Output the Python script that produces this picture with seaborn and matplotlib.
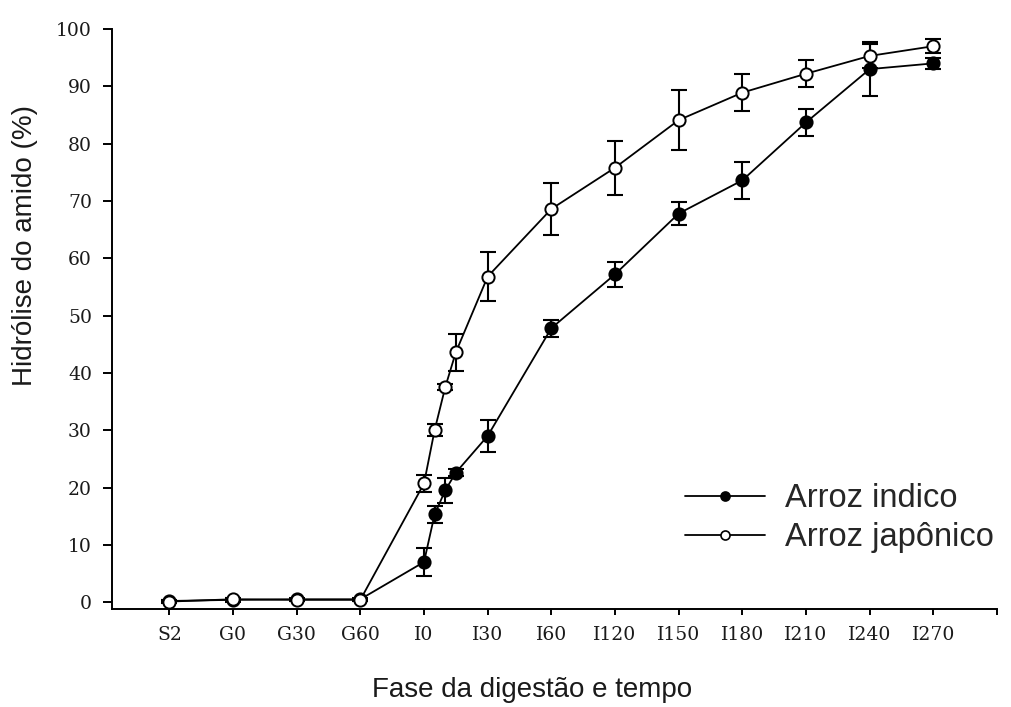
import numpy as np
import pandas as pd
import matplotlib
matplotlib.use("Agg")
import matplotlib.pyplot as plt
from matplotlib.lines import Line2D
import seaborn as sns

# ---- data ----
categories = ['S2', 'G0', 'G30', 'G60', 'I0', 'I30', 'I60', 'I120',
              'I150', 'I180', 'I210', 'I240', 'I270']
samples = ['S2', 'G0', 'G30', 'G60', 'I0', 'I5', 'I10', 'I15', 'I30', 'I60',
           'I120', 'I150', 'I180', 'I210', 'I240', 'I270']
indico = [0.2, 0.4, 0.5, 0.5, 7.0, 15.3, 19.5, 22.6, 29.0, 47.8,
          57.2, 67.8, 73.6, 83.7, 93.0, 94.0]
indico_err = [0.2, 0.3, 0.3, 0.3, 2.4, 1.5, 2.2, 0.6, 2.8, 1.5,
              2.2, 2.0, 3.2, 2.4, 4.7, 1.0]
japonico = [0.1, 0.5, 0.4, 0.4, 20.7, 30.0, 37.5, 43.6, 56.8, 68.6,
            75.8, 84.1, 88.9, 92.2, 95.3, 97.0]
japonico_err = [0.2, 0.3, 0.2, 0.2, 1.5, 1.0, 0.5, 3.2, 4.3, 4.5,
                4.7, 5.2, 3.2, 2.4, 2.1, 1.2]
series_names = ['Arroz indico', 'Arroz japônico']
x_label = 'Fase da digestão e tempo'
y_label = 'Hidrólise do amido (%)'


def position(s):
    if s in categories:
        return float(categories.index(s))
    # intermediate intestinal samples between I0 and I30
    i0 = categories.index('I0')
    return i0 + int(s[1:]) / 30.0


xs = [position(s) for s in samples]
df = pd.DataFrame({
    'x': xs * 2,
    'y': indico + japonico,
    'err': indico_err + japonico_err,
    'serie': [series_names[0]] * len(xs) + [series_names[1]] * len(xs),
})

sns.set_style('ticks')
plt.rcParams['font.family'] = ['Liberation Sans', 'DejaVu Sans']

fig = plt.figure(figsize=(10.11, 7.07), dpi=100)
ax = fig.add_axes([0.1108, 0.1386, 0.8754, 0.8204])

faces = {series_names[0]: 'black', series_names[1]: 'white'}
for name in series_names:
    d = df[df['serie'] == name]
    ax.errorbar(d['x'], d['y'], yerr=d['err'], fmt='none', ecolor='black',
                elinewidth=1.5, capsize=6, capthick=1.5, zorder=2)
    sns.lineplot(data=d, x='x', y='y', ax=ax, color='black', linewidth=1.3,
                 marker='o', markersize=8.8, markerfacecolor=faces[name],
                 markeredgecolor='black', markeredgewidth=1.4,
                 estimator=None, sort=False, zorder=3, legend=False)

ax.set_xlim(-0.9, 13.0)
ax.set_ylim(-1.2, 100)
ax.set_xticks(np.arange(len(categories) + 1))
ax.set_xticklabels(categories + [''])
ax.set_yticks(np.arange(0, 101, 10))
ax.set_xlabel('')
ax.set_ylabel('')
sns.despine(ax=ax)
for sp in ['left', 'bottom']:
    ax.spines[sp].set_linewidth(1.4)
    ax.spines[sp].set_color('black')

ax.tick_params(axis='x', direction='out', length=4.5, width=1.4, pad=8,
               labelsize=13.5, colors='black')
ax.tick_params(axis='y', direction='out', length=6.5, width=1.4, pad=8,
               labelsize=13.5, colors='black')
for lab in ax.get_xticklabels() + ax.get_yticklabels():
    lab.set_fontfamily('DejaVu Serif')
    lab.set_color('#1a1a1a')

fig.text(532 / 1011, 1 - 690 / 707, x_label, ha='center', va='center',
         fontsize=20, color='#1a1a1a')
fig.text(25 / 1011, 1 - 245 / 707, y_label, ha='center', va='center',
         rotation=90, fontsize=20, color='#1a1a1a')

handles = [Line2D([], [], color='black', linewidth=1.3, marker='o',
                  markersize=6.5, markerfacecolor=faces[n],
                  markeredgecolor='black', markeredgewidth=1.2)
           for n in series_names]
ax.legend(handles, series_names, loc='upper left',
          bbox_to_anchor=(685 / 1011, 1 - 483 / 707),
          bbox_transform=fig.transFigure, frameon=False, fontsize=23.5,
          handlelength=2.45, handletextpad=0.6, labelspacing=0.25,
          borderaxespad=0, borderpad=0)

fig.savefig('out.png', dpi=100)
